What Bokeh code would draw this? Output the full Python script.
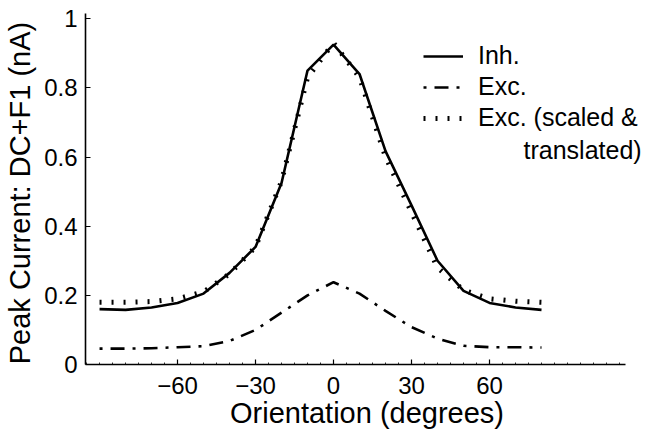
from bokeh.plotting import figure
from bokeh.models import Range1d, FixedTicker, Legend, LegendItem, Label
from bokeh.embed import file_html
from bokeh.resources import INLINE

orientation = [-90, -80, -70, -60, -50, -40, -30, -20, -10, 0, 10, 20, 30, 40, 50, 60, 70, 80]
inh = [0.160, 0.158, 0.165, 0.178, 0.205, 0.265, 0.340, 0.525, 0.850, 0.925, 0.840, 0.617, 0.460, 0.300, 0.213, 0.178, 0.165, 0.158]
exc = [0.046, 0.046, 0.047, 0.050, 0.053, 0.068, 0.100, 0.150, 0.200, 0.238, 0.205, 0.155, 0.108, 0.075, 0.054, 0.050, 0.050, 0.049]
exc_scaled = [0.180, 0.180, 0.182, 0.190, 0.210, 0.262, 0.340, 0.530, 0.830, 0.930, 0.830, 0.600, 0.440, 0.280, 0.215, 0.190, 0.183, 0.180]

x_ticks = [-60, -30, 0, 30, 60]
x_tick_labels = ["\u221260", "\u221230", "0", "30", "60"]
y_ticks = [0, 0.2, 0.4, 0.6, 0.8, 1.0]
y_tick_labels = ["0", "0.2", "0.4", "0.6", "0.8", "1"]
labels = ["Inh.", "Exc.", "Exc. (scaled &", "translated)"]

FONT = "Liberation Sans"
X_AXIS_END = 112.3

p = figure(width=648, height=436, output_backend="svg", toolbar_location=None,
           x_range=Range1d(-95.4, 121.15), y_range=Range1d(0, 1.015),
           min_border_left=85, min_border_right=0, min_border_top=13, min_border_bottom=72)
p.outline_line_color = None
p.grid.visible = False
p.background_fill_color = "white"

r_inh = p.line(orientation, inh, line_color="black", line_width=2.6)
r_exc = p.line(orientation, exc, line_color="black", line_width=2.6, line_dash="3 8 14 8")
r_sc = p.line(orientation, exc_scaled, line_color="black", line_width=5, line_dash="2 10")

for ax in (p.xaxis[0], p.yaxis[0]):
    ax.axis_line_width = 1.6
    ax.axis_line_color = "black"
    ax.major_tick_in = 5
    ax.major_tick_out = 0
    ax.major_tick_line_width = 1.2
    ax.minor_tick_in = 0
    ax.minor_tick_out = 0
    ax.major_label_text_font = FONT
    ax.major_label_text_font_size = "24px"
    ax.major_label_text_color = "black"
    ax.axis_label_text_font = FONT
    ax.axis_label_text_font_size = "29px"
    ax.axis_label_text_font_style = "normal"
    ax.axis_label_text_color = "black"

p.xaxis[0].bounds = (-95.4, X_AXIS_END)
p.xaxis[0].ticker = FixedTicker(ticks=x_ticks,
                                minor_ticks=[v for v in range(-95, 115, 5)])
p.xaxis[0].minor_tick_in = 2
p.xaxis[0].minor_tick_line_width = 0.8
p.xaxis[0].major_label_overrides = {t: l for t, l in zip(x_ticks, x_tick_labels)}
p.xaxis[0].major_label_standoff = 12
p.xaxis[0].axis_label = "Orientation (degrees)"
p.xaxis[0].axis_label_standoff = 0

p.yaxis[0].ticker = FixedTicker(ticks=y_ticks)
p.yaxis[0].major_label_overrides = {t: l for t, l in zip(y_ticks, y_tick_labels)}
p.yaxis[0].major_label_standoff = 8
p.yaxis[0].axis_label = "Peak Current:  DC+F1 (nA)"
p.yaxis[0].axis_label_standoff = 5

legend = Legend(items=[LegendItem(label=labels[0], renderers=[r_inh]),
                       LegendItem(label=labels[1], renderers=[r_exc]),
                       LegendItem(label=labels[2], renderers=[r_sc])],
                location=(338, 232), orientation="vertical",
                glyph_width=40, glyph_height=20, label_height=20, spacing=2,
                padding=5, margin=0, label_standoff=15,
                label_text_font=FONT, label_text_font_size="25px",
                label_text_color="black",
                border_line_color=None, background_fill_alpha=0)
p.add_layout(legend, "center")

p.add_layout(Label(x=438, y=215, x_units="screen", y_units="screen", text=labels[3],
                   text_font=FONT, text_font_size="25px", text_color="black",
                   text_baseline="middle", text_align="left"))

open("out.html", "w").write(file_html(p, INLINE))
